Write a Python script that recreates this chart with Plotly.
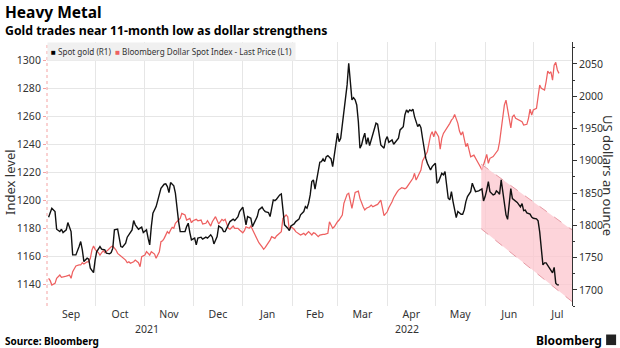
import plotly.graph_objects as go

# Spot gold, US$ per ounce (right axis)
gold_dates = [
    "2021-09-02", "2021-09-04", "2021-09-06", "2021-09-07", "2021-09-09", "2021-09-10", "2021-09-11", "2021-09-13",
    "2021-09-14", "2021-09-16", "2021-09-17", "2021-09-19", "2021-09-21", "2021-09-22", "2021-09-23", "2021-09-24",
    "2021-09-26", "2021-09-27", "2021-09-28", "2021-09-30",
    "2021-10-01", "2021-10-02", "2021-10-04", "2021-10-05", "2021-10-07", "2021-10-08", "2021-10-10", "2021-10-11",
    "2021-10-12", "2021-10-13", "2021-10-15", "2021-10-17", "2021-10-18", "2021-10-20", "2021-10-21", "2021-10-22",
    "2021-10-24", "2021-10-25", "2021-10-26", "2021-10-28", "2021-10-30", "2021-10-31",
    "2021-11-02", "2021-11-03", "2021-11-04", "2021-11-05", "2021-11-06", "2021-11-08", "2021-11-09", "2021-11-11",
    "2021-11-13", "2021-11-14", "2021-11-15", "2021-11-16", "2021-11-17", "2021-11-19", "2021-11-20", "2021-11-21",
    "2021-11-22", "2021-11-23", "2021-11-24", "2021-11-26", "2021-11-27", "2021-11-28", "2021-11-29", "2021-11-30",
    "2021-12-02", "2021-12-03", "2021-12-04", "2021-12-06", "2021-12-07", "2021-12-09", "2021-12-10", "2021-12-12",
    "2021-12-13", "2021-12-14", "2021-12-16", "2021-12-17", "2021-12-19", "2021-12-20", "2021-12-21", "2021-12-23",
    "2021-12-24", "2021-12-26", "2021-12-27", "2021-12-29", "2021-12-30",
    "2022-01-01", "2022-01-02", "2022-01-03", "2022-01-04", "2022-01-06", "2022-01-07", "2022-01-08", "2022-01-10",
    "2022-01-11", "2022-01-13", "2022-01-14", "2022-01-15", "2022-01-17", "2022-01-18", "2022-01-20", "2022-01-21",
    "2022-01-22", "2022-01-23", "2022-01-24", "2022-01-25", "2022-01-26", "2022-01-27", "2022-01-29", "2022-01-30",
    "2022-01-31",
    "2022-02-02", "2022-02-03", "2022-02-05", "2022-02-06", "2022-02-08", "2022-02-09", "2022-02-10", "2022-02-11",
    "2022-02-12", "2022-02-13", "2022-02-14", "2022-02-15", "2022-02-16", "2022-02-18", "2022-02-19", "2022-02-20",
    "2022-02-21", "2022-02-22", "2022-02-23", "2022-02-25", "2022-02-26", "2022-02-27", "2022-02-28",
    "2022-03-01", "2022-03-02", "2022-03-03", "2022-03-04", "2022-03-05", "2022-03-06", "2022-03-07", "2022-03-08",
    "2022-03-09", "2022-03-10", "2022-03-11", "2022-03-12", "2022-03-13", "2022-03-14", "2022-03-15", "2022-03-16",
    "2022-03-17", "2022-03-18", "2022-03-19", "2022-03-20", "2022-03-21", "2022-03-22", "2022-03-24", "2022-03-25",
    "2022-03-26", "2022-03-27", "2022-03-28", "2022-03-30", "2022-03-31",
    "2022-04-01", "2022-04-02", "2022-04-04", "2022-04-05", "2022-04-06", "2022-04-08", "2022-04-09", "2022-04-11",
    "2022-04-12", "2022-04-13", "2022-04-14", "2022-04-15", "2022-04-16", "2022-04-17", "2022-04-18", "2022-04-20",
    "2022-04-21", "2022-04-22", "2022-04-23", "2022-04-24", "2022-04-25", "2022-04-26", "2022-04-28", "2022-04-29",
    "2022-05-01", "2022-05-02", "2022-05-03", "2022-05-05", "2022-05-06", "2022-05-07", "2022-05-08", "2022-05-09",
    "2022-05-10", "2022-05-11", "2022-05-12", "2022-05-13", "2022-05-14", "2022-05-15", "2022-05-17", "2022-05-18",
    "2022-05-19", "2022-05-20", "2022-05-21", "2022-05-23", "2022-05-24", "2022-05-25", "2022-05-26", "2022-05-28",
    "2022-05-30", "2022-05-31",
    "2022-06-01", "2022-06-02", "2022-06-03", "2022-06-04", "2022-06-06", "2022-06-07", "2022-06-08", "2022-06-09",
    "2022-06-10", "2022-06-11", "2022-06-13", "2022-06-14", "2022-06-15", "2022-06-16", "2022-06-17", "2022-06-18",
    "2022-06-20", "2022-06-21", "2022-06-23", "2022-06-24", "2022-06-25", "2022-06-26", "2022-06-27", "2022-06-29",
    "2022-06-30",
    "2022-07-01", "2022-07-03", "2022-07-04", "2022-07-05", "2022-07-06", "2022-07-07", "2022-07-08", "2022-07-09",
    "2022-07-11", "2022-07-12", "2022-07-13", "2022-07-14", "2022-07-15", "2022-07-16", "2022-07-17",
]
gold_usd = [
    1812.6, 1826.5, 1821.3, 1794.0, 1790.3, 1794.0, 1788.7, 1792.9,
    1804.2, 1790.3, 1754.2, 1754.2, 1767.1, 1774.8, 1761.9, 1743.8,
    1749.1, 1747.5, 1733.6, 1726.8,
    1746.5, 1759.3, 1767.1, 1763.0, 1761.9, 1756.8, 1755.8, 1757.8,
    1764.6, 1792.9, 1794.0, 1767.1, 1766.1, 1772.3, 1781.6, 1785.2,
    1792.9, 1807.3, 1800.7, 1794.0, 1797.1, 1788.7,
    1792.9, 1780.1, 1769.7, 1798.0, 1818.8, 1829.0, 1839.4, 1857.5,
    1863.7, 1864.2, 1860.0, 1850.7, 1866.2, 1861.1, 1849.8, 1823.9,
    1805.8, 1790.3, 1790.3, 1790.3, 1798.0, 1803.3, 1788.7, 1777.4,
    1780.1, 1769.7, 1780.1, 1781.6, 1778.5, 1781.6, 1780.1, 1785.2,
    1781.6, 1771.2, 1782.5, 1799.1, 1795.6, 1790.3, 1790.3, 1802.2,
    1805.8, 1809.5, 1807.3, 1813.5, 1821.3,
    1828.1, 1816.2, 1800.7, 1813.5, 1811.0, 1798.0, 1803.3, 1813.5,
    1823.9, 1828.1, 1823.9, 1821.3, 1819.7, 1813.5, 1839.4, 1838.3,
    1840.5, 1844.5, 1847.1, 1848.7, 1818.8, 1800.7, 1795.6, 1791.8,
    1799.1,
    1802.2, 1805.8, 1809.5, 1816.2, 1821.3, 1829.0, 1826.5, 1834.3,
    1847.1, 1867.7, 1870.4, 1856.0, 1870.4, 1897.8, 1898.7, 1902.9,
    1898.7, 1906.4, 1908.0, 1902.9, 1891.0, 1909.1, 1927.2,
    1942.7, 1929.7, 1934.9, 1955.5, 1976.1, 1996.9, 2017.5, 2051.1,
    2017.5, 1994.3, 1997.8, 1994.3, 1986.5, 1960.6, 1919.5, 1924.6,
    1934.9, 1942.7, 1925.6, 1935.9, 1923.5, 1932.3, 1950.4, 1958.2,
    1956.6, 1942.7, 1924.6, 1919.5, 1932.3,
    1937.4, 1928.7, 1932.3, 1925.6, 1928.7, 1934.9, 1947.8, 1952.9,
    1971.0, 1978.8, 1975.2, 1978.8, 1977.2, 1979.9, 1968.4, 1952.9,
    1956.6, 1951.4, 1934.9, 1916.8, 1904.0, 1896.2, 1885.8, 1891.0,
    1896.2, 1865.2, 1867.7, 1880.7, 1878.1, 1883.2, 1862.6, 1842.0,
    1839.4, 1852.2, 1836.8, 1823.9, 1812.0, 1821.3, 1817.2, 1817.2,
    1823.9, 1836.8, 1844.5, 1852.2, 1865.2, 1858.4, 1852.2, 1853.3,
    1856.4, 1837.8,
    1844.5, 1854.9, 1867.7, 1852.2, 1847.1, 1848.2, 1853.3, 1851.3,
    1848.2, 1870.4, 1831.6, 1816.2, 1809.2, 1831.6, 1856.9, 1841.4,
    1836.8, 1835.5, 1828.5, 1833.7, 1822.7, 1823.5, 1819.2, 1817.4,
    1812.7,
    1811.0, 1810.0, 1806.9, 1789.8, 1757.3, 1738.7, 1741.8, 1741.8,
    1734.1, 1731.0, 1726.3, 1734.8, 1710.4, 1707.7, 1707.7,
]

# Bloomberg Dollar Spot Index, last price (left axis)
dollar_dates = [
    "2021-09-02", "2021-09-03", "2021-09-04", "2021-09-06", "2021-09-07", "2021-09-09", "2021-09-10", "2021-09-12",
    "2021-09-13", "2021-09-15", "2021-09-16", "2021-09-17", "2021-09-19", "2021-09-21", "2021-09-22", "2021-09-23",
    "2021-09-24", "2021-09-26", "2021-09-27", "2021-09-28", "2021-09-29", "2021-09-30",
    "2021-10-01", "2021-10-03", "2021-10-04", "2021-10-06", "2021-10-07", "2021-10-09", "2021-10-10", "2021-10-11",
    "2021-10-12", "2021-10-14", "2021-10-15", "2021-10-17", "2021-10-18", "2021-10-20", "2021-10-21", "2021-10-22",
    "2021-10-23", "2021-10-25", "2021-10-26", "2021-10-28", "2021-10-29", "2021-10-30",
    "2021-11-01", "2021-11-02", "2021-11-04", "2021-11-05", "2021-11-07", "2021-11-08", "2021-11-10", "2021-11-11",
    "2021-11-12", "2021-11-13", "2021-11-15", "2021-11-16", "2021-11-17", "2021-11-18", "2021-11-19", "2021-11-20",
    "2021-11-22", "2021-11-23", "2021-11-24", "2021-11-26", "2021-11-27", "2021-11-29", "2021-11-30",
    "2021-12-01", "2021-12-03", "2021-12-04", "2021-12-06", "2021-12-07", "2021-12-09", "2021-12-10", "2021-12-12",
    "2021-12-13", "2021-12-15", "2021-12-16", "2021-12-17", "2021-12-19", "2021-12-20", "2021-12-21", "2021-12-23",
    "2021-12-24", "2021-12-26", "2021-12-27", "2021-12-29", "2021-12-30",
    "2022-01-01", "2022-01-02", "2022-01-03", "2022-01-05", "2022-01-06", "2022-01-08", "2022-01-09", "2022-01-11",
    "2022-01-13", "2022-01-14", "2022-01-15", "2022-01-17", "2022-01-18", "2022-01-19", "2022-01-21", "2022-01-22",
    "2022-01-24", "2022-01-25", "2022-01-26", "2022-01-28", "2022-01-29", "2022-01-30", "2022-01-31",
    "2022-02-02", "2022-02-03", "2022-02-05", "2022-02-06", "2022-02-08", "2022-02-09", "2022-02-11", "2022-02-13",
    "2022-02-14", "2022-02-15", "2022-02-17", "2022-02-18", "2022-02-20", "2022-02-21", "2022-02-23", "2022-02-24",
    "2022-02-26", "2022-02-27",
    "2022-03-01", "2022-03-02", "2022-03-04", "2022-03-05", "2022-03-07", "2022-03-08", "2022-03-10", "2022-03-11",
    "2022-03-12", "2022-03-14", "2022-03-15", "2022-03-17", "2022-03-18", "2022-03-19", "2022-03-21", "2022-03-22",
    "2022-03-23", "2022-03-25", "2022-03-26", "2022-03-28", "2022-03-29", "2022-03-30",
    "2022-04-01", "2022-04-02", "2022-04-04", "2022-04-05", "2022-04-07", "2022-04-08", "2022-04-10", "2022-04-12",
    "2022-04-13", "2022-04-15", "2022-04-16", "2022-04-17", "2022-04-18", "2022-04-19", "2022-04-20", "2022-04-22",
    "2022-04-23", "2022-04-24", "2022-04-26", "2022-04-27", "2022-04-28", "2022-04-29", "2022-04-30",
    "2022-05-01", "2022-05-02", "2022-05-03", "2022-05-04", "2022-05-05", "2022-05-06", "2022-05-07", "2022-05-08",
    "2022-05-09", "2022-05-10", "2022-05-11", "2022-05-12", "2022-05-13", "2022-05-14", "2022-05-15", "2022-05-16",
    "2022-05-17", "2022-05-18", "2022-05-19", "2022-05-20", "2022-05-21", "2022-05-22", "2022-05-23", "2022-05-25",
    "2022-05-26", "2022-05-27", "2022-05-29", "2022-05-30", "2022-05-31",
    "2022-06-01", "2022-06-02", "2022-06-03", "2022-06-04", "2022-06-06", "2022-06-07", "2022-06-09", "2022-06-10",
    "2022-06-11", "2022-06-12", "2022-06-13", "2022-06-14", "2022-06-15", "2022-06-16", "2022-06-17", "2022-06-18",
    "2022-06-19", "2022-06-20", "2022-06-21", "2022-06-23", "2022-06-24", "2022-06-25", "2022-06-27", "2022-06-28",
    "2022-06-29", "2022-06-30",
    "2022-07-01", "2022-07-03", "2022-07-04", "2022-07-05", "2022-07-06", "2022-07-08", "2022-07-09", "2022-07-10",
    "2022-07-11", "2022-07-12", "2022-07-13", "2022-07-14", "2022-07-15", "2022-07-16", "2022-07-17",
]
dollar_index = [
    1144.1, 1142.4, 1139.3, 1140.5, 1144.1, 1146.4, 1144.8, 1145.7,
    1145.7, 1146.4, 1144.1, 1148.8, 1152.9, 1153.6, 1153.6, 1155.2,
    1154.3, 1155.9, 1155.9, 1158.4, 1164.3, 1167.1,
    1164.8, 1162.4, 1160.7, 1163.8, 1162.4, 1164.3, 1165.5, 1166.6,
    1167.1, 1164.3, 1161.9, 1160.0, 1159.1, 1157.1, 1155.2, 1155.9,
    1154.8, 1155.9, 1157.1, 1155.2, 1152.4, 1159.5,
    1160.7, 1163.1, 1160.7, 1163.1, 1161.4, 1158.4, 1163.1, 1170.2,
    1170.9, 1172.6, 1177.4, 1176.2, 1178.6, 1180.5, 1179.8, 1183.4,
    1185.7, 1186.9, 1190.5, 1189.3, 1185.7, 1186.9, 1183.8,
    1185.2, 1186.2, 1185.2, 1185.7, 1182.9, 1183.4, 1185.2, 1181.4,
    1184.5, 1188.1, 1185.2, 1182.9, 1186.2, 1185.2, 1186.2, 1179.8,
    1179.1, 1181.4, 1179.8, 1179.8, 1178.6,
    1176.6, 1178.1, 1180.9, 1179.8, 1181.4, 1176.6, 1173.8, 1169.5,
    1166.6, 1164.8, 1166.2, 1169.5, 1171.4, 1173.8, 1172.6, 1174.3,
    1176.2, 1177.4, 1186.9, 1189.3, 1188.1, 1178.6, 1180.9,
    1179.1, 1177.4, 1175.7, 1175.0, 1176.2, 1175.0, 1177.4, 1175.0,
    1176.6, 1176.2, 1173.8, 1175.0, 1175.5, 1175.5, 1176.2, 1184.5,
    1179.8, 1180.9,
    1184.5, 1185.7, 1189.3, 1197.6, 1204.1, 1204.8, 1194.1, 1201.2,
    1205.5, 1206.4, 1201.2, 1195.2, 1192.9, 1194.1, 1195.2, 1196.4,
    1195.2, 1196.4, 1196.9, 1200.0, 1194.1, 1188.8,
    1191.6, 1194.5, 1198.8, 1201.6, 1205.5, 1207.1, 1208.8, 1208.1,
    1208.8, 1211.9, 1213.1, 1215.5, 1219.1, 1214.3, 1216.6, 1221.4,
    1227.9, 1230.2, 1234.5, 1240.5, 1246.4, 1248.8, 1245.2,
    1249.3, 1247.6, 1245.2, 1236.4, 1244.1, 1247.6, 1249.3, 1251.6,
    1253.1, 1254.8, 1257.1, 1258.4, 1261.2, 1258.4, 1254.8, 1249.3,
    1246.4, 1248.8, 1244.1, 1238.1, 1240.5, 1234.5, 1230.9, 1232.1,
    1229.3, 1227.9, 1223.8, 1221.4, 1225.0,
    1229.8, 1232.6, 1226.2, 1229.8, 1231.1, 1232.6, 1235.7, 1241.6,
    1250.0, 1259.5, 1267.9, 1271.4, 1265.5, 1257.1, 1251.6, 1259.5,
    1260.7, 1258.4, 1257.9, 1256.4, 1255.9, 1253.6, 1254.1, 1258.4,
    1265.0, 1260.7,
    1264.3, 1265.5, 1274.5, 1282.1, 1279.8, 1278.6, 1284.5, 1292.1,
    1290.5, 1291.6, 1285.7, 1296.4, 1298.4, 1292.9, 1290.5,
]

# Downward trend channel drawn on the gold axis
channel_dates = ["2022-05-29 14:00", "2022-07-25 03:00"]
channel_upper = [1894.7, 1792.9]
channel_lower = [1794.5, 1681.9]

left_ticks = [1140, 1160, 1180, 1200, 1220, 1240, 1260, 1280, 1300]
right_ticks = [1700, 1750, 1800, 1850, 1900, 1950, 2000, 2050]
year_labels = ["2021", "2022"]
year_label_dates = ["2021-11-02", "2022-04-13"]

FONT = "Noto Sans"
TXT = "#333333"
RED = "#ee6060"

fig = go.Figure()

fig.add_trace(go.Scatter(
    x=channel_dates + channel_dates[::-1],
    y=channel_upper + channel_lower[::-1],
    mode="lines", fill="toself", fillcolor="rgba(252,198,206,0.75)",
    line=dict(width=0), yaxis="y2", hoverinfo="skip", showlegend=False,
))
for edge in (channel_upper, channel_lower):
    fig.add_trace(go.Scatter(
        x=channel_dates, y=edge, mode="lines",
        line=dict(color="#e79aa4", width=1, dash="dash"),
        yaxis="y2", hoverinfo="skip", showlegend=False,
    ))

fig.add_trace(go.Scatter(
    x=dollar_dates, y=dollar_index, mode="lines", name="Bloomberg Dollar Spot Index - Last Price (L1)",
    line=dict(color=RED, width=1.25), yaxis="y", showlegend=False,
))
fig.add_trace(go.Scatter(
    x=gold_dates, y=gold_usd, mode="lines", name="Spot gold (R1)",
    line=dict(color="#111111", width=1.4), yaxis="y2", showlegend=False,
))

annotations = [
    dict(text="<b>Heavy Metal</b>", x=-0.0838, y=1.1136, xref="paper", yref="paper",
         xanchor="left", yanchor="middle", showarrow=False, font=dict(family=FONT, size=15.5, color="#000")),
    dict(text="<b>Gold trades near 11-month low as dollar strengthens</b>", x=-0.0838, y=1.0417,
         xref="paper", yref="paper", xanchor="left", yanchor="middle", showarrow=False,
         font=dict(family=FONT, size=12.3, color="#000")),
    dict(text="<b>Source: Bloomberg</b>", x=-0.0838, y=-0.1326, xref="paper", yref="paper",
         xanchor="left", yanchor="middle", showarrow=False, font=dict(family=FONT, size=10, color="#000")),
    dict(text="<b>Bloomberg</b>", x=1.0610, y=-0.1288, xref="paper", yref="paper",
         xanchor="right", yanchor="middle", showarrow=False, font=dict(family=FONT, size=12, color="#000")),
    dict(text="Index level", x=-0.0705, y=0.47, xref="paper", yref="paper", textangle=-90,
         xanchor="center", yanchor="middle", showarrow=False, font=dict(family=FONT, size=13, color=TXT)),
    dict(text="US dollars an ounce", x=1.0686, y=0.496, xref="paper", yref="paper", textangle=90,
         xanchor="center", yanchor="middle", showarrow=False, font=dict(family=FONT, size=13, color=TXT)),
    dict(text=(f'<span style="color:#000">■</span> Spot gold (R1)  '
               f'<span style="color:{RED}">■</span> Bloomberg Dollar Spot Index - Last Price (L1)'),
         x=0, y=1, xref="paper", yref="paper", xanchor="left", yanchor="top", showarrow=False,
         bgcolor="#f0f0f0", borderpad=3, font=dict(family=FONT, size=8.1, color=TXT)),
]
for label, when in zip(year_labels, year_label_dates):
    annotations.append(dict(text=label, x=when, y=-0.086, xref="x", yref="paper",
                            xanchor="center", yanchor="middle", showarrow=False,
                            font=dict(family=FONT, size=10.5, color=TXT)))

fig.update_layout(
    width=620, height=348,
    margin=dict(l=47, r=48, t=42, b=42),
    paper_bgcolor="white", plot_bgcolor="white",
    font=dict(family=FONT, size=10.5, color=TXT),
    showlegend=False,
    annotations=annotations,
    shapes=[
        dict(type="line", xref="paper", yref="paper", x0=0, x1=0, y0=0, y1=1,
             line=dict(color="#f4a3a3", width=1, dash="dot")),
        dict(type="rect", xref="paper", yref="paper", x0=1.0650, x1=1.0840, y0=-0.148, y1=-0.108,
             fillcolor="#222", line=dict(width=0)),
    ],
    xaxis=dict(
        type="date", range=["2021-09-01", "2022-07-25 03:00"],
        tick0="2021-09-01", dtick="M1", tickformat="%b", ticklabelmode="period",
        showgrid=True, gridcolor="#e6e6e6", gridwidth=1, ticks="", showline=False, zeroline=False,
        tickfont=dict(family=FONT, size=10.5, color=TXT),
    ),
    yaxis=dict(
        range=[1124.3, 1312.9], tickvals=left_ticks, showgrid=True, gridcolor="#e6e6e6",
        ticks="outside", ticklen=3, tickcolor="#f4a3a3", showline=False, zeroline=False,
        tickfont=dict(family=FONT, size=10.5, color=TXT),
    ),
    yaxis2=dict(
        overlaying="y", side="right", range=[1675, 2084], tickvals=right_ticks,
        showgrid=False, zeroline=False, showline=True, linecolor="#333", linewidth=1,
        ticks="outside", ticklen=4, tickcolor="#333",
        minor=dict(tick0=1675, dtick=25, ticks="outside", ticklen=2, tickcolor="#333"),
        tickfont=dict(family=FONT, size=10.5, color=TXT),
    ),
)

fig.write_html("out.html")
